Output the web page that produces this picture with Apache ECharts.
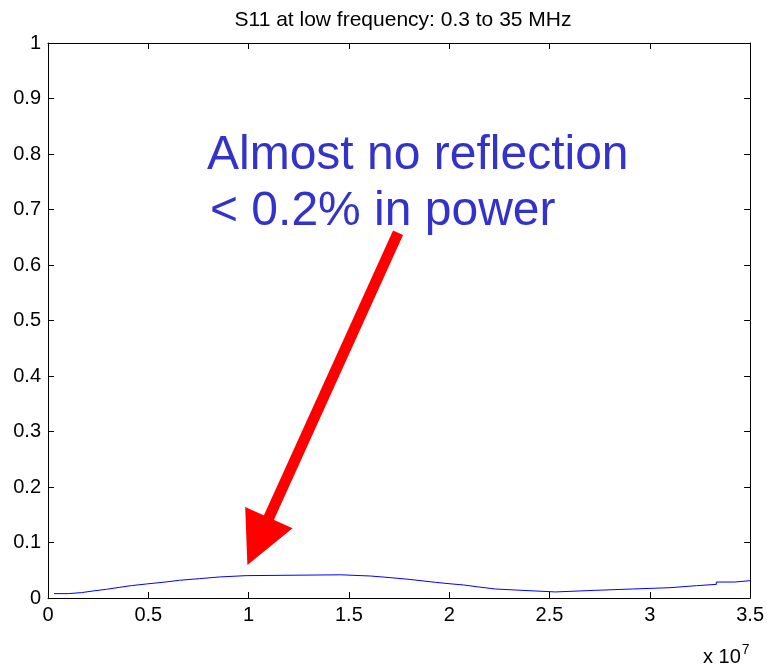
<!DOCTYPE html>
<html>
<head>
<meta charset="utf-8">
<script src="https://cdn.jsdelivr.net/npm/echarts@6/dist/echarts.min.js"></script>
<style>
html,body{margin:0;padding:0;background:#fff;}
#chart{width:767px;height:664px;}
</style>
</head>
<body>
<div id="chart"></div>
<script>
// Frequency in units of 1e7 Hz (start of each step)
const freq7 = [0.03, 0.101, 0.167, 0.225, 0.292, 0.358, 0.416, 0.491, 0.573, 0.656, 0.756, 0.855, 0.988,
  1.460, 1.609, 1.709, 1.800, 1.874, 1.932, 1.999, 2.073, 2.148, 2.231, 2.363, 2.529, 2.728, 2.913,
  3.101, 3.233, 3.332, 3.424, 3.5];
// |S11| values
const s11 = [0.0079, 0.0097, 0.0127, 0.0157, 0.0193, 0.0223, 0.0253, 0.0283, 0.0319, 0.0349, 0.0379, 0.0403, 0.0418,
  0.0396, 0.0366, 0.0336, 0.0306, 0.0282, 0.0258, 0.0234, 0.0198, 0.0162, 0.0138, 0.0109, 0.0138, 0.0162, 0.0186,
  0.0222, 0.0246, 0.0288, 0.0312, 0.0312];
const xTicks = [0, 0.5, 1, 1.5, 2, 2.5, 3, 3.5];
const yTicks = [0, 0.1, 0.2, 0.3, 0.4, 0.5, 0.6, 0.7, 0.8, 0.9, 1];
const titleText = 'S11 at low frequency: 0.3 to 35 MHz';
const noteLines = ['Almost no reflection', '< 0.2% in power'];
// arrow anchor points in data coordinates: tail, tip
const arrowTail = [1.745, 0.658];
const arrowTip = [0.994, 0.0595];

const chart = echarts.init(document.getElementById('chart'), null, {renderer: 'canvas'});
const FONT = '"Liberation Sans", Arial, sans-serif';
const tickStyle = {show: true, inside: true, length: 6, lineStyle: {color: '#000', width: 1}};
const lineStyle = {show: true, onZero: false, lineStyle: {color: '#000', width: 1}};

const data = freq7.map((f, i) => [f, s11[i]]);

chart.setOption({
  animation: false,
  backgroundColor: '#fff',
  title: {
    text: titleText,
    left: 398, top: 5, textAlign: 'center',
    textStyle: {fontFamily: FONT, fontSize: 21, fontWeight: 'normal', color: '#000'}
  },
  grid: {left: 48, right: 15, top: 43, bottom: 66, containLabel: false},
  xAxis: [{
    type: 'value', min: 0, max: 3.5, interval: 0.5, position: 'bottom',
    axisLine: lineStyle, axisTick: tickStyle, splitLine: {show: false},
    axisLabel: {fontFamily: FONT, fontSize: 20, color: '#000', margin: 7,
      formatter: v => String(xTicks.find(t => Math.abs(t - v) < 1e-9) ?? v)}
  }, {
    type: 'value', min: 0, max: 3.5, interval: 0.5, position: 'top',
    axisLine: lineStyle, axisTick: tickStyle, splitLine: {show: false}, axisLabel: {show: false}
  }],
  yAxis: [{
    type: 'value', min: 0, max: 1, interval: 0.1, position: 'left',
    axisLine: lineStyle, axisTick: tickStyle, splitLine: {show: false},
    axisLabel: {fontFamily: FONT, fontSize: 20, color: '#000', margin: 7,
      formatter: v => String(yTicks.find(t => Math.abs(t - v) < 1e-9) ?? v)}
  }, {
    type: 'value', min: 0, max: 1, interval: 0.1, position: 'right',
    axisLine: lineStyle, axisTick: tickStyle, splitLine: {show: false}, axisLabel: {show: false}
  }],
  series: [{
    type: 'line', data: data, step: 'end', showSymbol: false, symbol: 'none',
    lineStyle: {color: '#0000ff', width: 1}, xAxisIndex: 0, yAxisIndex: 0
  }]
});

const pTail = chart.convertToPixel({gridIndex: 0}, arrowTail);
const pTip = chart.convertToPixel({gridIndex: 0}, arrowTip);
const dx = pTip[0] - pTail[0], dy = pTip[1] - pTail[1];
const len = Math.sqrt(dx * dx + dy * dy);
const ux = dx / len, uy = dy / len;
const headLen = 52, headHalf = 26;
const base = [pTip[0] - ux * headLen, pTip[1] - uy * headLen];
const c1 = [base[0] - uy * headHalf, base[1] + ux * headHalf];
const c2 = [base[0] + uy * headHalf, base[1] - ux * headHalf];
const shaftEnd = [pTip[0] - ux * (headLen - 4), pTip[1] - uy * (headLen - 4)];

chart.setOption({
  graphic: [
    {type: 'line', shape: {x1: pTail[0], y1: pTail[1], x2: shaftEnd[0], y2: shaftEnd[1]},
      style: {stroke: '#ff0000', lineWidth: 11, lineCap: 'butt'}, z: 10},
    {type: 'polygon', shape: {points: [pTip, c1, c2]}, style: {fill: '#ff0000'}, z: 10},
    {type: 'text', left: 207, top: 132, z: 11,
      style: {text: noteLines[0], font: '48px ' + FONT, fill: '#3333cc'}},
    {type: 'text', left: 210, top: 188, z: 11,
      style: {text: noteLines[1], font: '48px ' + FONT, fill: '#3333cc'}},
    {type: 'text', left: 703, top: 643, z: 11,
      style: {text: '{a|x 10}{s|7}', rich: {
        a: {fontFamily: FONT, fontSize: 20, color: '#000'},
        s: {fontFamily: FONT, fontSize: 14, color: '#000', verticalAlign: 'top', padding: [0, 0, 14, 1]}
      }}}
  ]
});
</script>
</body>
</html>
